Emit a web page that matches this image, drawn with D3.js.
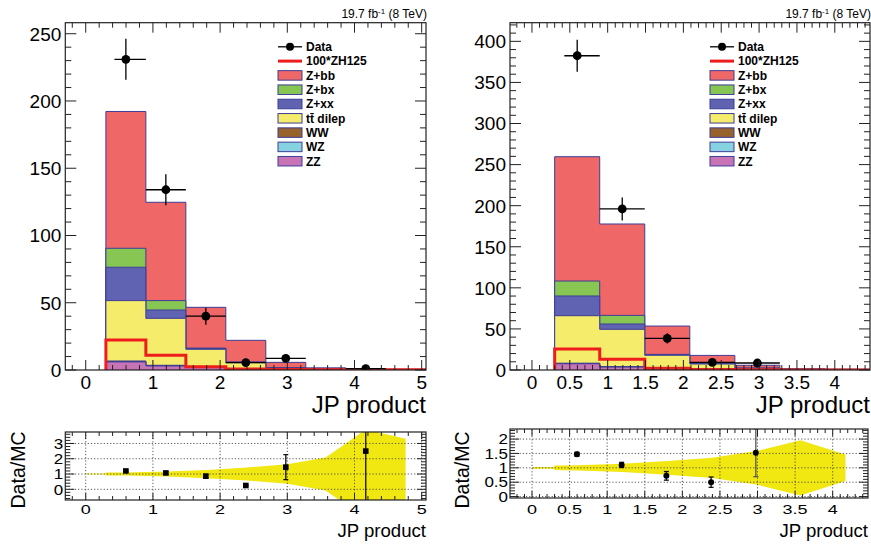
<!DOCTYPE html>
<html><head><meta charset="utf-8">
<script src="https://cdn.jsdelivr.net/npm/d3@7"></script>
<style>
body{margin:0;background:#fff}
svg{display:block}
text{font-family:"Liberation Sans",Arial,Helvetica,sans-serif;fill:#000}
</style>
</head><body>
<svg id="c" width="871" height="544"></svg>
<script>
// ---------------- DATA ----------------
const binEdges = [0.3, 0.895, 1.49, 2.085, 2.68, 3.275, 3.87, 4.465, 5.06];
const processes = ["Z+bb", "Z+bx", "Z+xx", "tt\u0304 dilep", "WW", "WZ", "ZZ"];
const legendLabels = ["Data", "100*ZH125", "Z+bb", "Z+bx", "Z+xx", "tt\u0304 dilep", "WW", "WZ", "ZZ"];
const lumiText = "19.7 fb";
const axisTitle = "JP product";
const ratioTitle = "Data/MC";

// Left panel stack components (per bin)
const L_Zbb   = [101.7, 73.1, 30.3, 16.1, 4.0, 1.1, 0.8, 0.4];
const L_Zbx   = [14.1, 7.0, 0.4, 0.2, 0.1, 0.05, 0.02, 0.01];
const L_Zxx   = [24.8, 6.2, 0.5, 0.3, 0.1, 0.05, 0.02, 0.01];
const L_ttbar = [44.9, 34.9, 13.3, 4.5, 1.1, 0.3, 0.1, 0.05];
const L_WW    = [0.4, 0.3, 0.2, 0.1, 0.05, 0, 0, 0];
const L_WZ    = [0.3, 0.2, 0.1, 0.05, 0.02, 0, 0, 0];
const L_ZZ    = [6.0, 3.0, 1.8, 0.8, 0.3, 0.1, 0.05, 0.02];
const L_ZH    = [22.3, 10.9, 2.5, 0.8, 0.3, 0.2, 0.1, 0.1];
const L_data    = [231, 134, 40, 5.5, 8.7, 0, 1, 0];
const L_dataErr = [15.2, 11.6, 6.3, 2.3, 2.9, 0, 1, 0];
const L_ratio    = [1.2, 1.07, 0.86, 0.25, 1.45, null, 2.5, null];
const L_ratioErr = [0.05, 0.09, 0.12, 0.04, 0.82, 0, 4.0, 0];
const L_bandX    = [0, 0.29, 0.3, 0.6, 1.2, 1.8, 2.4, 3.0, 3.57, 4.17, 4.76];
const L_bandHalf = [0.03, 0.03, 0.1, 0.1, 0.16, 0.27, 0.42, 0.64, 1.08, 2.92, 2.31];

// Right panel stack components (per bin)
const R_Zbb   = [151.3, 111.2, 34.5, 10.0, 3.5, 1.0, 0.8, 0.4];
const R_Zbx   = [18.2, 10.5, 0.5, 0.2, 0.1, 0.05, 0.02, 0.01];
const R_Zxx   = [24.0, 6.5, 0.6, 0.3, 0.1, 0.05, 0.02, 0.01];
const R_ttbar = [57.8, 45.4, 16.3, 6.5, 1.7, 0.4, 0.1, 0.05];
const R_WW    = [0.4, 0.3, 0.2, 0.1, 0.05, 0, 0, 0];
const R_WZ    = [0.3, 0.2, 0.1, 0.05, 0.02, 0, 0, 0];
const R_ZZ    = [7.6, 3.6, 1.3, 0.6, 0.3, 0.1, 0.05, 0.02];
const R_ZH    = [25.6, 13.0, 2.0, 0.5, 0.2, 0.1, 0.05, 0.05];
const R_data    = [382.5, 196, 38.6, 9.3, 8.5, 0, 0, 0];
const R_dataErr = [19.6, 14.0, 6.2, 3.0, 2.9, 0, 0, 0];
const R_ratio    = [1.47, 1.1, 0.72, 0.5, 1.52, null, null, null];
const R_ratioErr = [0.07, 0.09, 0.15, 0.18, 0.83, 0, 0, 0];
const R_bandX    = [0, 0.29, 0.3, 0.6, 1.2, 1.8, 2.4, 3.0, 3.57, 4.17];
const R_bandHalf = [0.03, 0.03, 0.08, 0.09, 0.145, 0.24, 0.35, 0.59, 0.96, 0.46];

// Lower half-width of the data x error (upper = half bin)
const dataXErrLow = [0.17, 0.2975, 0.2975, 0.2975, 0.2975, 0.2975, 0.2975, 0.2975];

// ---------------- STYLE ----------------
const procColors = {"Z+bb":"#f06767","Z+bx":"#88c654","Z+xx":"#5f63b1","tt\u0304 dilep":"#f4ec6a","WW":"#98622c","WZ":"#86d2e0","ZZ":"#c674b6"};
const outline = "#3d3d98";
const bandColor = "#f1e711";

const svg = d3.select("#c");
svg.append("rect").attr("width",871).attr("height",544).attr("fill","#fff");
const defs = svg.append("defs");
let clipId = 0;

function stepTicks(domain, step){
  const a = Math.ceil(domain[0]/step - 1e-9), b = Math.floor(domain[1]/step + 1e-9);
  return d3.range(a, b+1).map(i => +(i*step).toFixed(6));
}

function frameTicks(g, xs, ys, xMaj, xMin, yMaj, yMin, lx, lxm, ly, lym){
  const [X0,X1] = xs.range(), [Y0,Y1] = ys.range();
  const t = g.append("g").attr("stroke","#222").attr("stroke-width",1);
  const xm = stepTicks(xs.domain(), xMin), xM = stepTicks(xs.domain(), xMaj);
  const ym = stepTicks(ys.domain(), yMin), yM = stepTicks(ys.domain(), yMaj);
  const isMaj = (v, M) => M.some(m => Math.abs(m - v) < 1e-6);
  xm.forEach(v => { const L = isMaj(v,xM) ? lx : lxm; const x = xs(v);
    t.append("line").attr("x1",x).attr("x2",x).attr("y1",Y0).attr("y2",Y0-L);
    t.append("line").attr("x1",x).attr("x2",x).attr("y1",Y1).attr("y2",Y1+L); });
  ym.forEach(v => { const L = isMaj(v,yM) ? ly : lym; const y = ys(v);
    t.append("line").attr("y1",y).attr("y2",y).attr("x1",X0).attr("x2",X0+L);
    t.append("line").attr("y1",y).attr("y2",y).attr("x1",X1).attr("x2",X1-L); });
  g.append("rect").attr("x",X0).attr("y",Y1).attr("width",X1-X0).attr("height",Y0-Y1)
    .attr("fill","none").attr("stroke","#222").attr("stroke-width",1.2);
}

function makeClip(xs, ys){
  const id = "clip" + (clipId++);
  const [X0,X1] = xs.range(), [Y0,Y1] = ys.range();
  defs.append("clipPath").attr("id",id).append("rect")
    .attr("x",X0).attr("y",Y1).attr("width",X1-X0).attr("height",Y0-Y1);
  return "url(#"+id+")";
}

function topPanel(cfg){
  const {xs, ys, comps, zh, data, dataErr, xLabels, yLabels, legendX, xMaj, xMin, yMaj, yMin} = cfg;
  const g = svg.append("g");
  const plot = g.append("g").attr("clip-path", makeClip(xs, ys));
  const nb = binEdges.length - 1;
  const order = processes.slice().reverse();
  const cum = [];
  let run = d3.range(nb).map(() => 0);
  order.forEach(p => { run = run.map((v,i) => v + comps[p][i]); cum.push({p, vals: run.slice()}); });
  const stepPts = vals => {
    const pts = [[binEdges[0], 0]];
    vals.forEach((v,i) => pts.push([binEdges[i], v]));
    pts.push([binEdges[nb], vals[nb-1]]);
    pts.push([binEdges[nb], 0]);
    return pts;
  };
  const line = d3.line().x(d => xs(d[0])).y(d => ys(d[1])).curve(d3.curveStepAfter);
  const area = d3.area().x(d => xs(d[0])).y0(ys(0)).y1(d => ys(d[1])).curve(d3.curveStepAfter);
  cum.slice().reverse().forEach(c => {
    const pts = stepPts(c.vals);
    plot.append("path").attr("d", area(pts)).attr("fill", procColors[c.p]);
    plot.append("path").attr("d", line(pts)).attr("fill","none").attr("stroke",outline).attr("stroke-width",1);
  });
  plot.append("path").attr("d", line(stepPts(zh))).attr("fill","none")
    .attr("stroke","#ee1c1c").attr("stroke-width",3);
  const dg = plot.append("g");
  data.forEach((v,i) => {
    if (!v) return;
    const xc = (binEdges[i] + binEdges[i+1]) / 2;
    const xh = (binEdges[i+1] - binEdges[i]) / 2;
    dg.append("line").attr("x1", xs(xc - dataXErrLow[i])).attr("x2", xs(xc + xh))
      .attr("y1", ys(v)).attr("y2", ys(v)).attr("stroke","#000").attr("stroke-width",1.3);
    dg.append("line").attr("x1", xs(xc)).attr("x2", xs(xc))
      .attr("y1", ys(v - dataErr[i])).attr("y2", ys(v + dataErr[i])).attr("stroke","#000").attr("stroke-width",1.3);
    dg.append("circle").attr("cx", xs(xc)).attr("cy", ys(v)).attr("r", 4.4).attr("fill","#000");
  });
  frameTicks(g, xs, ys, xMaj, xMin, yMaj, yMin, 10, 5, 11, 6);
  const [X0,X1] = xs.range(), [Y0,Y1] = ys.range();
  xLabels.forEach(v => g.append("text").attr("x", xs(v)).attr("y", 389).attr("text-anchor","middle")
    .attr("font-size", 19).text(d3.format("~g")(v)));
  yLabels.forEach(v => g.append("text").attr("x", X0 - 4).attr("y", ys(v)).attr("dy","0.36em")
    .attr("text-anchor","end").attr("font-size", 19).text(v));
  g.append("text").attr("x", X1).attr("y", 413).attr("text-anchor","end").attr("font-size", 24).text(axisTitle);
  const lt = g.append("text").attr("x", X1 + 1).attr("y", 18).attr("text-anchor","end").attr("font-size", 12);
  lt.append("tspan").text(lumiText);
  lt.append("tspan").attr("dy",-4).attr("font-size",8).text("-1");
  lt.append("tspan").attr("dy",4).text(" (8 TeV)");
  const lg = g.append("g");
  const row0 = 46.8, dRow = 14.3, bw = 24, bh = 9.5;
  legendLabels.forEach((lab, k) => {
    const y = row0 + k*dRow;
    if (k === 0) {
      lg.append("line").attr("x1", legendX).attr("x2", legendX + bw).attr("y1", y).attr("y2", y).attr("stroke","#000").attr("stroke-width",1.3);
      lg.append("circle").attr("cx", legendX + bw/2).attr("cy", y).attr("r", 4).attr("fill","#000");
    } else if (k === 1) {
      lg.append("line").attr("x1", legendX).attr("x2", legendX + bw).attr("y1", y).attr("y2", y).attr("stroke","#ee1c1c").attr("stroke-width",3);
    } else {
      lg.append("rect").attr("x", legendX).attr("y", y - bh/2).attr("width", bw).attr("height", bh)
        .attr("fill", procColors[lab]).attr("stroke", outline).attr("stroke-width",1);
    }
    lg.append("text").attr("x", legendX + bw + 4).attr("y", y).attr("dy","0.36em")
      .attr("font-size", 12).attr("font-weight","bold").text(lab);
  });
}

function ratioPanel(cfg){
  const {xs, ys, ratio, ratioErr, bandX, bandHalf, xLabels, yLabels, xMaj, xMin, yMaj, yMin, square, errColor, titleX} = cfg;
  const g = svg.append("g");
  const plot = g.append("g").attr("clip-path", makeClip(xs, ys));
  const bandArea = d3.area().x(d => xs(d)).y0((d,i) => ys(1 - bandHalf[i])).y1((d,i) => ys(1 + bandHalf[i]));
  plot.append("path").attr("d", bandArea(bandX)).attr("fill", bandColor);
  const [X0,X1] = xs.range(), [Y0,Y1] = ys.range();
  const grid = plot.append("g").attr("stroke","#444").attr("stroke-width",0.9).attr("stroke-dasharray","1.2,2");
  stepTicks(xs.domain(), xMaj).forEach(v => grid.append("line").attr("x1",xs(v)).attr("x2",xs(v)).attr("y1",Y0).attr("y2",Y1));
  stepTicks(ys.domain(), yMaj).forEach(v => grid.append("line").attr("y1",ys(v)).attr("y2",ys(v)).attr("x1",X0).attr("x2",X1));
  ratio.forEach((v,i) => {
    if (v === null) return;
    const xc = xs((binEdges[i] + binEdges[i+1]) / 2);
    const e = ratioErr[i];
    if (e > 0) {
      const col = i === 4 && errColor ? errColor : "#111";
      plot.append("line").attr("x1",xc).attr("x2",xc).attr("y1",ys(v-e)).attr("y2",ys(v+e)).attr("stroke",col).attr("stroke-width",1.3);
      [v-e, v+e].forEach(w => plot.append("line").attr("x1",xc-2.5).attr("x2",xc+2.5).attr("y1",ys(w)).attr("y2",ys(w)).attr("stroke",col).attr("stroke-width",1.3));
    }
    if (square) plot.append("rect").attr("x",xc-2.8).attr("y",ys(v)-2.8).attr("width",5.6).attr("height",5.6).attr("fill","#000");
    else plot.append("circle").attr("cx",xc).attr("cy",ys(v)).attr("r",3).attr("fill","#000");
  });
  frameTicks(g, xs, ys, xMaj, xMin, yMaj, yMin, 7, 4, 9, 5);
  xLabels.forEach(v => g.append("text").attr("transform", `translate(${xs(v)},514) scale(1,0.72)`)
    .attr("text-anchor","middle").attr("font-size", 18).text(d3.format("~g")(v)));
  yLabels.forEach(v => g.append("text").attr("transform", `translate(${X0-2},${ys(v)}) scale(1,0.85)`)
    .attr("dy","0.36em").attr("text-anchor","end").attr("font-size", 17).text(d3.format("~g")(v)));
  g.append("text").attr("x", X1).attr("y", 537).attr("text-anchor","end").attr("font-size", 18.6).text(axisTitle);
  g.append("text").attr("transform", `translate(${titleX},470) rotate(-90)`).attr("text-anchor","middle")
    .attr("font-size", 19.5).text(ratioTitle);
}

const compsL = {"Z+bb":L_Zbb,"Z+bx":L_Zbx,"Z+xx":L_Zxx,"tt\u0304 dilep":L_ttbar,"WW":L_WW,"WZ":L_WZ,"ZZ":L_ZZ};
const compsR = {"Z+bb":R_Zbb,"Z+bx":R_Zbx,"Z+xx":R_Zxx,"tt\u0304 dilep":R_ttbar,"WW":R_WW,"WZ":R_WZ,"ZZ":R_ZZ};

topPanel({
  xs: d3.scaleLinear([-0.304, 5.064], [65.3, 426]),
  ys: d3.scaleLinear([0, 258.2], [370, 22.7]),
  comps: compsL, zh: L_ZH, data: L_data, dataErr: L_dataErr,
  xLabels: [0,1,2,3,4,5], yLabels: [0,50,100,150,200,250],
  legendX: 278, xMaj: 1, xMin: 0.2, yMaj: 50, yMin: 10
});
topPanel({
  xs: d3.scaleLinear([-0.29, 4.465], [510, 870]),
  ys: d3.scaleLinear([0, 422.7], [370, 22.7]),
  comps: compsR, zh: R_ZH, data: R_data, dataErr: R_dataErr,
  xLabels: [0,0.5,1,1.5,2,2.5,3,3.5,4], yLabels: [0,50,100,150,200,250,300,350,400],
  legendX: 710, xMaj: 0.5, xMin: 0.1, yMaj: 50, yMin: 10
});
ratioPanel({
  xs: d3.scaleLinear([-0.304, 5.064], [65.3, 426]),
  ys: d3.scaleLinear([-0.7, 3.75], [500, 432]),
  ratio: L_ratio, ratioErr: L_ratioErr, bandX: L_bandX, bandHalf: L_bandHalf,
  xLabels: [0,1,2,3,4,5], yLabels: [0,1,2,3], xMaj: 1, xMin: 0.2, yMaj: 1, yMin: 0.2,
  square: true, errColor: null, titleX: 25
});
ratioPanel({
  xs: d3.scaleLinear([-0.293, 4.47], [510, 868]),
  ys: d3.scaleLinear([-0.05, 2.35], [498, 429]),
  ratio: R_ratio, ratioErr: R_ratioErr, bandX: R_bandX, bandHalf: R_bandHalf,
  xLabels: [0,0.5,1,1.5,2,2.5,3,3.5,4], yLabels: [0,0.5,1,1.5,2], xMaj: 0.5, xMin: 0.1, yMaj: 0.5, yMin: 0.1,
  square: false, errColor: "#555", titleX: 469
});
</script>
</body></html>
